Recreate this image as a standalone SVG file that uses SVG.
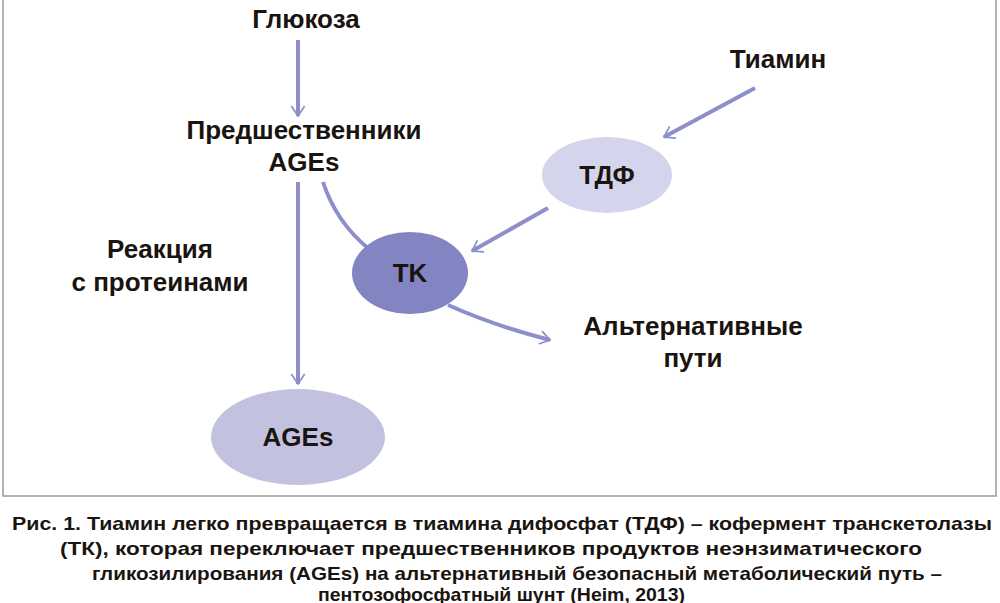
<svg xmlns="http://www.w3.org/2000/svg" width="1000" height="603" viewBox="0 0 1000 603">
<style>
.t{font-family:"Liberation Sans",sans-serif;font-weight:bold;font-size:26px;fill:#1a1410;text-anchor:middle}
.c{font-family:"Liberation Sans",sans-serif;font-weight:bold;font-size:19px;fill:#1a1410}
.l{fill:none;stroke:#8c8fca;stroke-width:4}
</style>
<defs><marker id="a" viewBox="0 0 12 12" refX="10" refY="6" markerWidth="5" markerHeight="5" orient="auto" markerUnits="userSpaceOnUse" style="overflow:visible"><path d="M-14,-10 L10,6 L-14,22" fill="none" stroke="#8c8fca" stroke-width="4"/></marker></defs>
<rect x="3" y="-5" width="993" height="501" fill="#fff" stroke="#999" stroke-width="1.5"/>
<g id="connectors">
<line class="l" x1="298" y1="40" x2="298" y2="116" marker-end="url(#a)"/>
<line class="l" x1="298" y1="182" x2="298" y2="384" marker-end="url(#a)"/>
<line class="l" x1="755" y1="88" x2="664" y2="137" marker-end="url(#a)"/>
<line class="l" x1="548" y1="208" x2="472" y2="251" marker-end="url(#a)"/>
<path class="l" d="M323,182 Q336,222 369,249"/>
<path class="l" d="M448,305 Q495,326 550,340" marker-end="url(#a)"/>
</g>
<g id="glucose"><text class="t" x="306" y="28">Глюкоза</text></g>
<g id="precursors"><text class="t" x="304" y="139">Предшественники</text><text class="t" x="304" y="171">AGEs</text></g>
<g id="reaction"><text class="t" x="160" y="258">Реакция</text><text class="t" x="160" y="291">с протеинами</text></g>
<g id="thiamine"><text class="t" x="778" y="68">Тиамин</text></g>
<g id="tdf"><ellipse cx="607" cy="175" rx="65" ry="38" fill="#d4d4ec"/><text class="t" x="607" y="184">ТДФ</text></g>
<g id="tk"><ellipse cx="410" cy="273" rx="58" ry="41" fill="#8285c2"/><text class="t" x="410" y="282">TK</text></g>
<g id="alt"><text class="t" x="693" y="335">Альтернативные</text><text class="t" x="693" y="367">пути</text></g>
<g id="ages"><ellipse cx="298" cy="437" rx="87" ry="48" fill="#c2c2e0"/><text class="t" x="298" y="446">AGEs</text></g>
<g id="caption">
<text class="c" x="12" y="530" textLength="980" lengthAdjust="spacingAndGlyphs">Рис. 1. Тиамин легко превращается в тиамина дифосфат (ТДФ) – кофермент транскетолазы</text>
<text class="c" x="60" y="555" textLength="862" lengthAdjust="spacingAndGlyphs">(ТК), которая переключает предшественников продуктов неэнзиматического</text>
<text class="c" x="92" y="580" textLength="850" lengthAdjust="spacingAndGlyphs">гликозилирования (AGEs) на альтернативный безопасный метаболический путь –</text>
<text class="c" x="318" y="601" textLength="367" lengthAdjust="spacingAndGlyphs">пентозофосфатный шунт (Heim, 2013)</text>
</g>
</svg>
